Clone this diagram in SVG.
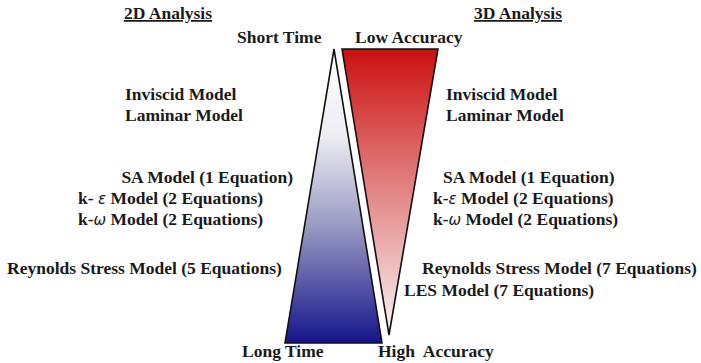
<svg xmlns="http://www.w3.org/2000/svg" width="701" height="363" viewBox="0 0 701 363">
<style>
text{font-family:"Liberation Serif","Times New Roman",serif;font-weight:bold;font-size:17.5px;fill:#1a1a1a}
.h{text-decoration:underline}
.g{font-family:"DejaVu Sans",sans-serif;font-style:italic;font-weight:normal;font-size:15px}
.tri{stroke:#111;stroke-width:1.6;stroke-linejoin:miter}
</style>
<defs>
<linearGradient id="blue" x1="0" y1="0" x2="0" y2="1">
<stop offset="0" stop-color="#ffffff"/>
<stop offset="0.3" stop-color="#ececf2"/>
<stop offset="0.6" stop-color="#9a9ac4"/>
<stop offset="1" stop-color="#14148a"/>
</linearGradient>
<linearGradient id="red" x1="0" y1="0" x2="0" y2="1">
<stop offset="0" stop-color="#cc1010"/>
<stop offset="0.45" stop-color="#e07b7b"/>
<stop offset="1" stop-color="#faf2f2"/>
</linearGradient>
</defs>
<g id="connectors"></g>
<g id="blue-triangle"><polygon class="tri" points="334,49 285,343 382,343" fill="url(#blue)"/></g>
<g id="red-triangle"><polygon class="tri" points="342,49 438,49 389,335" fill="url(#red)"/></g>
<g id="heading-2d"><text class="h" x="124" y="19">2D Analysis</text></g>
<g id="heading-3d"><text class="h" x="474" y="19">3D Analysis</text></g>
<g id="short-time"><text x="237" y="43">Short Time</text></g>
<g id="low-accuracy"><text x="355" y="43">Low Accuracy</text></g>
<g id="long-time"><text x="242" y="357">Long Time</text></g>
<g id="high-accuracy"><text x="378" y="357" xml:space="preserve">High  Accuracy</text></g>
<g id="left-models">
<text x="125" y="100">Inviscid Model</text>
<text x="125" y="121">Laminar Model</text>
<text x="293" y="183" text-anchor="end">SA Model (1 Equation)</text>
<text x="78" y="204" xml:space="preserve">k- <tspan class="g">ε</tspan> Model (2 Equations)</text>
<text x="78" y="225">k-<tspan class="g">ω</tspan> Model (2 Equations)</text>
<text x="7" y="274">Reynolds Stress Model (5 Equations)</text>
</g>
<g id="right-models">
<text x="446" y="100">Inviscid Model</text>
<text x="446" y="121">Laminar Model</text>
<text x="443" y="183">SA Model (1 Equation)</text>
<text x="433" y="204">k-<tspan class="g">ε</tspan> Model (2 Equations)</text>
<text x="433" y="225">k-<tspan class="g">ω</tspan> Model (2 Equations)</text>
<text x="422" y="274">Reynolds Stress Model (7 Equations)</text>
<text x="404" y="296">LES Model (7 Equations)</text>
</g>
</svg>
